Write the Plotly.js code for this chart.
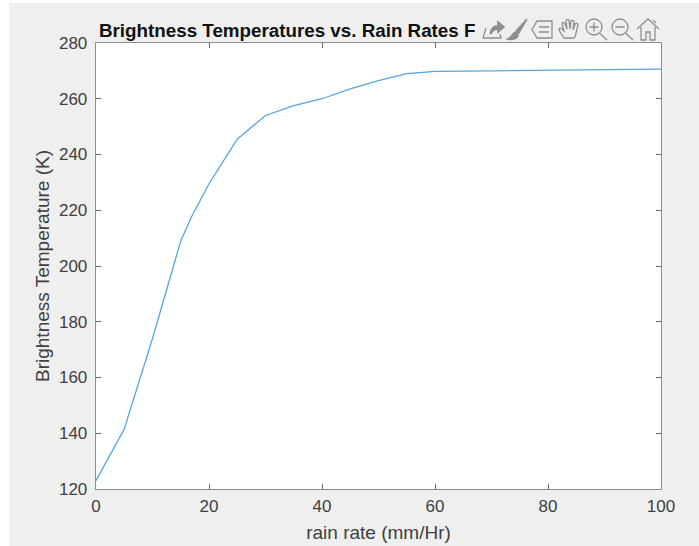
<!DOCTYPE html>
<html><head><meta charset="utf-8">
<script src="https://cdn.plot.ly/plotly-3.0.1.min.js"></script>
<style>html,body{margin:0;padding:0;background:#fff;overflow:hidden}#c{position:absolute;left:9px;top:3px;width:690px;height:543px}</style>
</head><body><div id="c"></div>
<script>
const rainRate = [0,5,10,15,17,20,25,30,35,40,45,50,55,60,70,80,100];
const brightness = [123,141.5,174,209,218,229.5,245.5,254,257.5,260,263.5,266.5,269,269.8,270,270.2,270.6];
const xTicks = [0,20,40,60,80,100];
const yTicks = [120,140,160,180,200,220,240,260,280];
const titleText = 'Brightness Temperatures vs. Rain Rates F';
const xLabel = 'rain rate (mm/Hr)';
const yLabel = 'Brightness Temperature (K)';

const W=690,H=543,L=87,R=652,T=40,B=486;
const font='"Liberation Sans",Arial,sans-serif';
const ic='#8f8f8f';
function icon(inner){return 'data:image/svg+xml,'+encodeURIComponent('<svg xmlns="http://www.w3.org/2000/svg" width="24" height="24" viewBox="0 0 24 24" fill="none" stroke="'+ic+'" stroke-width="1.3">'+inner+'</svg>');}
const icons=[
 '<path d="M5 11 L2 21 H20 L19 17 M9 17 C10 11 13 9 17 9 V5 L23 10 L17 15 V12 C13 12 11 14 10 17" /><path d="M17 5 L23 10 L17 15 V12 C13 12 11 14 10 17 C10 11 13 9 17 9Z" fill="'+ic+'"/>',
 '<path d="M22 2 L11 14 L14 16 Z" fill="'+ic+'"/><path d="M11 15 C7 15 8 20 2 22 C8 24 14 21 13 17Z" fill="'+ic+'"/>',
 '<path d="M7 4 H22 V21 H7 L2 12.5 Z M9 10 H19 M9 15 H19"/>',
 '<path d="M7 21 C5 18 2 14 2 12 C3 10 5 12 7 14 L5 7 C5 5 7 5 8 7 L10 12 L9 4 C10 2 12 2 12 4 L13 12 L14 4 C15 3 17 3 17 5 L16 13 L18 7 C19 6 21 6 21 8 L19 16 C19 19 18 20 17 21 Z"/>',
 '<circle cx="10" cy="10" r="8"/><path d="M15.5 16 L23 23 M5.5 10 H14.5 M10 5.5 V14.5"/>',
 '<circle cx="10" cy="10" r="8"/><path d="M15.5 16 L23 23 M5.5 10 H14.5"/>',
 '<path d="M1 12 L12 2 L23 12 M5 10 V23 H10 V15 H14 V23 H19 V10 M17 3 L20 6"/>'
];
const iconX=[481,505,530,557,584,610,636];
const images=icons.map((s,i)=>({source:icon(s),xref:'paper',yref:'paper',
  x:(iconX[i]-9-L)/(R-L),y:1+(T-(17-3))/(B-T),sizex:24/(R-L),sizey:24/(B-T),
  xanchor:'left',yanchor:'top',sizing:'stretch',layer:'above'}));

Plotly.newPlot('c',[{x:rainRate,y:brightness,mode:'lines',type:'scatter',
  line:{color:'#56a5dc',width:1.3},hoverinfo:'skip',cliponaxis:false}],{
  width:W,height:H,paper_bgcolor:'#efefef',plot_bgcolor:'#ffffff',showlegend:false,
  margin:{l:L,r:W-R,t:T,b:H-B,pad:0},font:{family:font,size:17,color:'#404040'},
  xaxis:{range:[0,100],tickmode:'array',tickvals:xTicks,ticks:'inside',ticklen:5,tickwidth:1,tickcolor:'#666',
    showline:true,mirror:'ticks',linecolor:'#8c8c8c',linewidth:1.3,showgrid:false,zeroline:false,ticklabelstandoff:1,
    tickfont:{size:17,color:'#404040'},title:{text:xLabel,font:{size:19,color:'#404040'},standoff:11},automargin:false},
  yaxis:{range:[120,280],tickmode:'array',tickvals:yTicks,ticks:'inside',ticklen:5,tickwidth:1,tickcolor:'#666',
    showline:true,mirror:'ticks',linecolor:'#8c8c8c',linewidth:1.3,showgrid:false,zeroline:false,ticklabelstandoff:4,
    tickfont:{size:17,color:'#404040'},title:{text:yLabel,font:{size:19,color:'#404040'},standoff:4},automargin:false},
  annotations:[{text:'<b>'+titleText+'</b>',xref:'paper',yref:'paper',x:0.004,y:1,xanchor:'left',yanchor:'bottom',yshift:1,
    showarrow:false,font:{size:18.8,color:'#111',family:font},borderpad:0}],
  images:images
},{displayModeBar:false,staticPlot:true});
</script></body></html>
